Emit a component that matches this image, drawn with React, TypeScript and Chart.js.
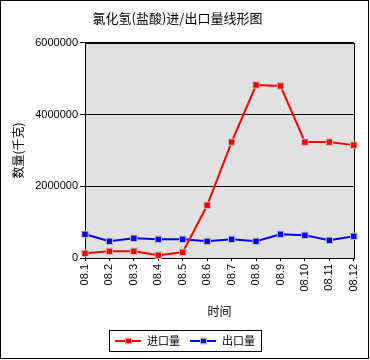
import React, { useEffect, useRef } from "react";
import { Chart, registerables } from "chart.js";

Chart.register(...registerables);

const chartTitle = "氯化氢(盐酸)进/出口量线形图";
const xAxisTitle = "时间";
const yAxisTitle = "数量(千克)";
const categories = ["08.1", "08.2", "08.3", "08.4", "08.5", "08.6", "08.7", "08.8", "08.9", "08.10", "08.11", "08.12"];
const importLabel = "进口量";
const exportLabel = "出口量";
const importValues = [130000, 186000, 186000, 75000, 158000, 1472000, 3234000, 4827000, 4800000, 3234000, 3234000, 3150000];
const exportValues = [662000, 466000, 550000, 522000, 522000, 466000, 522000, 466000, 662000, 634000, 494000, 606000];
const yMin = 0;
const yMax = 6000000;
const yStep = 2000000;

const CJK = '"Noto Sans CJK SC", sans-serif';
const LATIN = '"Liberation Sans", Arial, sans-serif';

const framePlugin = {
  id: "framePlugin",
  beforeDraw(chart: any) {
    const { ctx, chartArea } = chart;
    ctx.save();
    ctx.fillStyle = "#ffffff";
    ctx.fillRect(0, 0, chart.width, chart.height);
    ctx.fillStyle = "#e1e1e1";
    ctx.fillRect(chartArea.left, chartArea.top, chartArea.right - chartArea.left, chartArea.bottom - chartArea.top);
    ctx.restore();
  },
  beforeDatasetsDraw(chart: any) {
    const { ctx, chartArea } = chart;
    ctx.save();
    ctx.strokeStyle = "#000000";
    ctx.lineWidth = 1;
    ctx.strokeRect(
      Math.round(chartArea.left) + 0.5,
      Math.round(chartArea.top) + 0.5,
      Math.round(chartArea.right - chartArea.left),
      Math.round(chartArea.bottom - chartArea.top)
    );
    ctx.restore();
  },
  afterDraw(chart: any) {
    const { ctx } = chart;
    ctx.save();
    // outer frame
    ctx.strokeStyle = "#000000";
    ctx.lineWidth = 1;
    ctx.strokeRect(0.5, 0.5, chart.width - 2, chart.height - 2);

    // legend
    const ds = chart.data.datasets;
    ctx.font = "11px " + CJK;
    const lineW = 26, gap = 6, itemGap = 10, pad = 6;
    const widths = ds.map((d: any) => ctx.measureText(d.label).width);
    let total = pad * 2 + itemGap * (ds.length - 1);
    widths.forEach((w: number) => (total += lineW + gap + w));
    total = Math.round(total);
    const left = Math.round(chart.width / 2 - total / 2);
    const top = 330;
    const h = 21;
    ctx.strokeRect(left + 0.5, top + 0.5, total, h);
    const cy = top + h / 2 + 0.5;
    let x = left + pad;
    ds.forEach((d: any, i: number) => {
      ctx.strokeStyle = d.borderColor;
      ctx.lineWidth = 2;
      ctx.beginPath();
      ctx.moveTo(x, cy);
      ctx.lineTo(x + lineW, cy);
      ctx.stroke();
      ctx.fillStyle = d.borderColor;
      ctx.fillRect(x + lineW / 2 - 2, cy - 2.5, 5, 5);
      ctx.strokeStyle = "#c0c0c0";
      ctx.lineWidth = 1;
      ctx.strokeRect(x + lineW / 2 - 2.5, cy - 3, 6, 6);
      x += lineW + gap;
      ctx.fillStyle = "#000000";
      ctx.textAlign = "left";
      ctx.textBaseline = "middle";
      ctx.fillText(d.label, x, cy);
      x += widths[i] + itemGap;
    });
    ctx.restore();
  },
};

export default function App() {
  const canvasRef = useRef<HTMLCanvasElement | null>(null);

  useEffect(() => {
    if (!canvasRef.current) return;
    const chart = new Chart(canvasRef.current, {
      type: "line",
      data: {
        labels: categories,
        datasets: [
          {
            label: importLabel,
            data: importValues,
            borderColor: "#ff0000",
            backgroundColor: "#ff0000",
            borderWidth: 2,
            pointStyle: "rect",
            pointRadius: 4.5,
            pointBackgroundColor: "#ff0000",
            pointBorderColor: "#c0c0c0",
            pointBorderWidth: 1,
            tension: 0,
            clip: false,
          } as any,
          {
            label: exportLabel,
            data: exportValues,
            borderColor: "#0000ff",
            backgroundColor: "#0000ff",
            borderWidth: 2,
            pointStyle: "rect",
            pointRadius: 4.5,
            pointBackgroundColor: "#0000ff",
            pointBorderColor: "#c0c0c0",
            pointBorderWidth: 1,
            tension: 0,
            clip: false,
          } as any,
        ],
      },
      options: {
        responsive: false,
        animation: false,
        layout: { padding: { left: 0, right: 15, top: 0, bottom: 41 } },
        plugins: {
          legend: { display: false },
          tooltip: { enabled: false },
          title: {
            display: true,
            text: chartTitle,
            color: "#000000",
            font: { family: CJK, size: 13, weight: "normal", lineHeight: 1.23 } as any,
            padding: { top: 10, bottom: 17 },
          },
        },
        scales: {
          x: {
            type: "category",
            offset: false,
            afterFit: (scale: any) => {
              scale.height = 61;
            },
            grid: { display: true, drawOnChartArea: false, drawTicks: true, tickLength: 3, color: "#000000" },
            border: { display: true, color: "#000000" },
            ticks: {
              autoSkip: false,
              maxRotation: 90,
              minRotation: 90,
              padding: 3,
              color: "#000000",
              font: { family: LATIN, size: 11 },
            },
            title: {
              display: true,
              text: xAxisTitle,
              color: "#000000",
              font: { family: CJK, size: 12 },
              padding: { top: 0, bottom: 0 },
            },
          },
          y: {
            min: yMin,
            max: yMax,
            afterFit: (scale: any) => {
              scale.width = 85;
            },
            grid: { display: true, drawOnChartArea: true, drawTicks: true, tickLength: 5, color: "#000000" },
            border: { display: true, color: "#000000" },
            ticks: {
              stepSize: yStep,
              padding: 2,
              color: "#000000",
              font: { family: LATIN, size: 11 },
              callback: (v: any) => String(v),
            },
            title: {
              display: true,
              text: yAxisTitle,
              color: "#000000",
              font: { family: CJK, size: 12 },
              padding: { top: 11, bottom: 0 },
            },
          },
        },
      },
      plugins: [framePlugin],
    });
    return () => chart.destroy();
  }, []);

  return (
    <div style={{ position: "absolute", left: 0, top: 0, width: 370, height: 360 }}>
      <canvas ref={canvasRef} width={370} height={360} style={{ display: "block" }} />
    </div>
  );
}
